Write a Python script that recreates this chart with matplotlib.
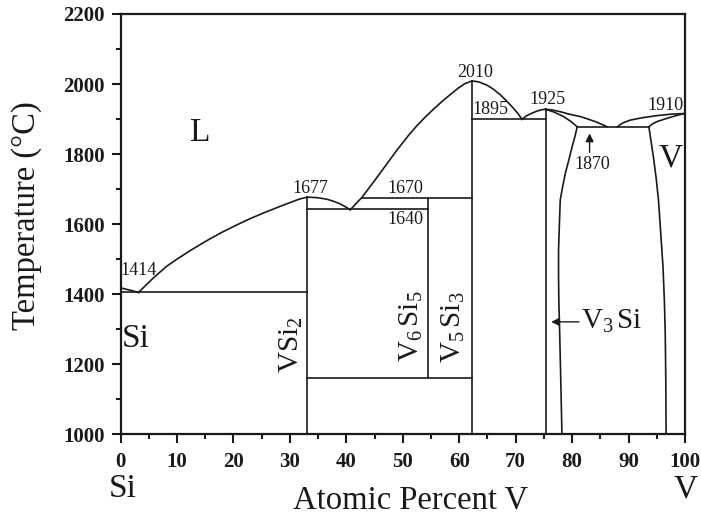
import matplotlib
matplotlib.use("Agg")
import matplotlib.pyplot as plt

plt.rcParams['font.family'] = ['Liberation Serif', 'DejaVu Serif']
plt.rcParams['mathtext.fontset'] = 'custom'
plt.rcParams['mathtext.rm'] = 'Liberation Serif'
plt.rcParams['mathtext.it'] = 'Liberation Serif:italic'
plt.rcParams['mathtext.bf'] = 'Liberation Serif:bold'

# ---- data (atomic percent V, temperature in C) ----
si_liq_x = [0, 1.6, 3.2]
si_liq_t = [1418, 1412, 1405]
liq1_x = [3.2, 4.5, 6, 8.2, 10, 12.5, 15.3, 18, 20.5, 23, 25.5, 28, 30.1, 31.6, 32.5, 33.1]
liq1_t = [1405, 1426, 1449, 1480, 1500, 1526, 1553, 1577, 1597, 1616, 1633, 1649, 1662, 1671, 1675, 1677]
liq2_x = [33.1, 34.5, 35.5, 36.6, 37.8, 38.9, 39.8, 40.7]
liq2_t = [1677, 1676, 1674, 1671, 1665, 1658, 1650, 1641]
liq3_x = [40.7, 42.8, 45, 47, 49.0, 51, 52.5, 54, 55.5, 57, 58.5, 59.8, 61.0, 62.3]
liq3_t = [1641, 1677, 1724, 1768, 1812, 1853, 1881, 1906, 1929, 1951, 1971, 1988, 2001, 2009]
liq4_x = [62.3, 63.5, 64.9, 66, 67.3, 68.5, 69.6, 70.4, 71.1]
liq4_t = [2009, 2006, 1997, 1986, 1969, 1950, 1931, 1916, 1900]
liq5_x = [71.1, 71.8, 72.6, 73.5, 74.4, 75.3]
liq5_t = [1899, 1908, 1915, 1921, 1926, 1928]
liq6_x = [75.3, 76.5, 77.9, 79.5, 81.5, 83, 84.4, 85.4, 86.2]
liq6_t = [1928, 1926, 1921, 1914, 1907, 1899, 1891, 1884, 1878]
v3si_sol_x = [75.3, 76.8, 78.5, 79.8, 80.9]
v3si_sol_t = [1928, 1920, 1907, 1893, 1878]
v3si_solvus_x = [80.9, 80.5, 80.0, 79.4, 78.8, 78.3, 77.9, 77.75, 77.6, 77.6, 77.65, 77.8, 78.0, 78.2]
v3si_solvus_t = [1878, 1850, 1821, 1782, 1745, 1705, 1669, 1600, 1526, 1450, 1380, 1289, 1150, 1000]
v_liq_x = [88.0, 89.0, 90.3, 92.5, 95.1, 97.5, 100]
v_liq_t = [1878, 1889, 1897, 1904, 1910, 1914, 1916]
v_sol_x = [100, 98.7, 97.4, 96.2, 95.1, 94.3, 93.6]
v_sol_t = [1916, 1911, 1905, 1899, 1893, 1887, 1878]
v_solvus_x = [93.6, 94.0, 94.4, 94.9, 95.3, 95.7, 96.1, 96.35, 96.5, 96.6, 96.65]
v_solvus_t = [1878, 1835, 1793, 1730, 1669, 1575, 1479, 1380, 1288, 1150, 1000]

# compounds (composition, bottom T, top T)
compound_x = [33.1, 54.4, 62.3, 75.3]
compound_tlow = [1000, 1161, 1000, 1000]
compound_thigh = [1677, 1676, 2009, 1928]

# invariant horizontal lines (T, x start, x end)
inv_t = [1405, 1642, 1676, 1161, 1899, 1878]
inv_x0 = [0, 33.1, 42.8, 33.1, 62.3, 80.9]
inv_x1 = [33.1, 54.4, 62.3, 62.3, 75.3, 93.6]

# temperature annotations (text, x, T)
ann_text = ['1414', '1677', '2010', '1895', '1670', '1640', '1925', '1910']
ann_x = [3.2, 33.7, 62.8, 65.6, 50.5, 50.5, 75.6, 96.6]
ann_t = [1467, 1702, 2033, 1926, 1701, 1613, 1955, 1939]

x_ticks = [0, 10, 20, 30, 40, 50, 60, 70, 80, 90, 100]
y_ticks = [1000, 1200, 1400, 1600, 1800, 2000, 2200]

fig = plt.figure(figsize=(7.01, 5.25), dpi=100)
ax = fig.add_axes([120.5/701, 1 - 434.3/525, (685 - 120.5)/701, (434.3 - 14)/525])

lw = 1.2
col = '#1a1a1a'
for xs, ts in [(si_liq_x, si_liq_t), (liq1_x, liq1_t), (liq2_x, liq2_t),
               (liq3_x, liq3_t), (liq4_x, liq4_t), (liq5_x, liq5_t),
               (liq6_x, liq6_t), (v3si_sol_x, v3si_sol_t),
               (v3si_solvus_x, v3si_solvus_t), (v_liq_x, v_liq_t),
               (v_sol_x, v_sol_t), (v_solvus_x, v_solvus_t)]:
    ax.plot(xs, ts, color=col, lw=lw, solid_joinstyle='round')

for cx, lo, hi in zip(compound_x, compound_tlow, compound_thigh):
    ax.plot([cx, cx], [lo, hi], color=col, lw=lw)
for t, x0, x1 in zip(inv_t, inv_x0, inv_x1):
    ax.plot([x0, x1], [t, t], color=col, lw=lw)

for s, x, t in zip(ann_text, ann_x, ann_t):
    ax.text(x, t, s, fontsize=13, ha='center', va='center', color=col)

# 1870 arrow
ax.annotate('', xy=(83.1, 1867), xytext=(83.1, 1797),
            arrowprops=dict(arrowstyle='-|>', color=col, lw=1.0, mutation_scale=12))
ax.text(83.5, 1769, '1870', fontsize=13, ha='center', va='center', color=col)

# V3Si arrow
ax.annotate('', xy=(75.8, 1321), xytext=(81.7, 1321),
            arrowprops=dict(arrowstyle='-|>', color=col, lw=1.0, mutation_scale=12))
ax.text(81.6, 1321, r'$\mathrm{V_3\,Si}$', fontsize=21, ha='left', va='center', color=col)

# phase labels
ax.text(14.2, 1861, 'L', fontsize=24, ha='center', va='center', color=col)
ax.text(0.3, 1272, 'Si', fontsize=24, ha='left', va='center', color=col)
ax.text(97.4, 1788, 'V', fontsize=24, ha='center', va='center', color=col)
ax.text(30.3, 1255, r'$\mathrm{VSi_2}$', fontsize=21, rotation=90, ha='center', va='center', color=col)
ax.text(51.5, 1310, r'$\mathrm{V_6\,Si_5}$', fontsize=21, rotation=90, ha='center', va='center', color=col)
ax.text(59.0, 1307, r'$\mathrm{V_5\,Si_3}$', fontsize=21, rotation=90, ha='center', va='center', color=col)

ax.set_xlim(0, 100)
ax.set_ylim(1000, 2200)
ax.set_xticks(x_ticks)
ax.set_yticks(y_ticks)
ax.set_xticks([5, 15, 25, 35, 45, 55, 65, 75, 85, 95], minor=True)
ax.set_yticks([1100, 1300, 1500, 1700, 1900, 2100], minor=True)
ax.tick_params(which='major', direction='out', length=6.5, width=1.5, colors=col,
               labelsize=15, pad=5)
ax.tick_params(which='minor', direction='out', length=3.6, width=1.5, colors=col)
ax.tick_params(axis='x', which='major', pad=6)
for lab in ax.get_xticklabels() + ax.get_yticklabels():
    lab.set_fontweight('bold')
for sp in ax.spines.values():
    sp.set_linewidth(1.6)
    sp.set_color(col)

fig.text(27/701, 1 - 216/525, 'Temperature (°C)', fontsize=23.5, rotation=90,
         ha='center', va='center', color=col)
fig.text(411/701, 1 - 500/525, 'Atomic Percent V', fontsize=23.5,
         ha='center', va='center', color=col)
fig.text(122.5/701, 1 - 489/525, 'Si', fontsize=24, ha='center', va='center', color=col)
fig.text(686/701, 1 - 489/525, 'V', fontsize=24, ha='center', va='center', color=col)

fig.savefig('out.png', dpi=100)
